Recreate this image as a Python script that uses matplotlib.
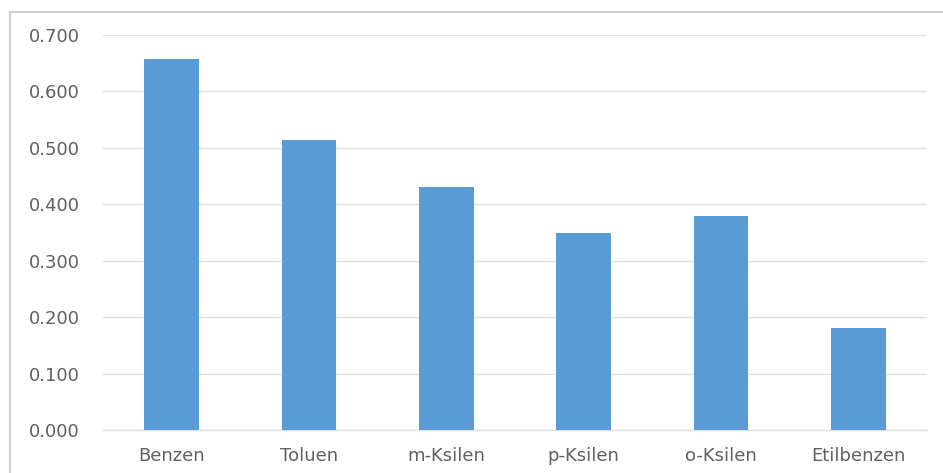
import matplotlib.pyplot as plt
from matplotlib.lines import Line2D

compounds = ['Benzen', 'Toluen', 'm-Ksilen', 'p-Ksilen', 'o-Ksilen', 'Etilbenzen']
values = [0.657, 0.514, 0.431, 0.349, 0.379, 0.181]
yticks = [0.0, 0.1, 0.2, 0.3, 0.4, 0.5, 0.6, 0.7]

bar_color = '#5B9BD5'
text_color = '#606060'
grid_color = '#E0E0E0'

plt.rcParams['font.family'] = ['DejaVu Sans']

W, H = 943, 473
fig = plt.figure(figsize=(W / 100, H / 100), dpi=100)
ax = fig.add_axes([103 / W, 43 / H, (927 - 103) / W, (430 - 35) / H])

x = range(len(compounds))
ax.bar(x, values, width=0.4, color=bar_color, zorder=3)

ax.set_xlim(-0.5, len(compounds) - 0.5)
ax.set_ylim(0, 0.7)
ax.set_yticks(yticks)
ax.set_yticklabels([f'{v:.3f}' for v in yticks])
ax.set_xticks(list(x))
ax.set_xticklabels(compounds)

ax.yaxis.grid(True, color=grid_color, linewidth=1.0, zorder=0)
ax.xaxis.grid(False)
for side in ['top', 'right', 'left']:
    ax.spines[side].set_visible(False)
ax.spines['bottom'].set_color(grid_color)
ax.spines['bottom'].set_linewidth(1.0)

ax.tick_params(axis='both', length=0, colors=text_color, labelsize=13)
ax.tick_params(axis='y', pad=17)
ax.tick_params(axis='x', pad=12)

# chart frame
fig.add_artist(Line2D([9.5 / W, 9.5 / W], [0, 1 - 12 / H], color='#D0D0D0',
                      linewidth=1.5, transform=fig.transFigure))
fig.add_artist(Line2D([9.5 / W, 1], [1 - 12 / H, 1 - 12 / H], color='#D0D0D0',
                      linewidth=1.5, transform=fig.transFigure))

fig.savefig('out.png', dpi=100)
